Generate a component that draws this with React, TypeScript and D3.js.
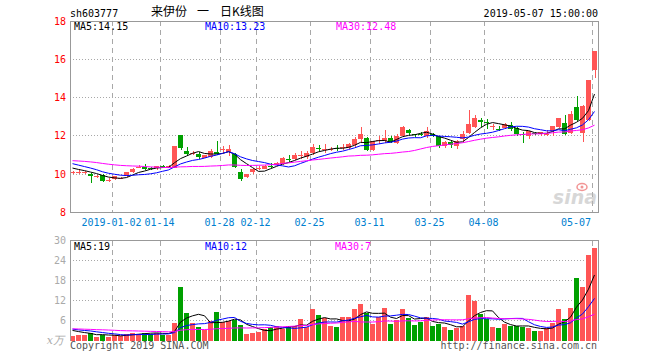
import React from "react";
import * as d3 from "d3";

// trading days shown on the chart
const dates = [
  "2018-12-20","2018-12-21","2018-12-24","2018-12-25","2018-12-26","2018-12-27","2018-12-28",
  "2019-01-02","2019-01-03","2019-01-04","2019-01-07","2019-01-08","2019-01-09","2019-01-10","2019-01-11",
  "2019-01-14","2019-01-15","2019-01-16","2019-01-17","2019-01-18","2019-01-21","2019-01-22","2019-01-23",
  "2019-01-24","2019-01-25","2019-01-28","2019-01-29","2019-01-30","2019-01-31","2019-02-01","2019-02-11",
  "2019-02-12","2019-02-13","2019-02-14","2019-02-15","2019-02-18","2019-02-19","2019-02-20","2019-02-21",
  "2019-02-22","2019-02-25","2019-02-26","2019-02-27","2019-02-28","2019-03-01","2019-03-04","2019-03-05",
  "2019-03-06","2019-03-07","2019-03-08","2019-03-11","2019-03-12","2019-03-13","2019-03-14","2019-03-15",
  "2019-03-18","2019-03-19","2019-03-20","2019-03-21","2019-03-22","2019-03-25","2019-03-26","2019-03-27",
  "2019-03-28","2019-03-29","2019-04-01","2019-04-02","2019-04-03","2019-04-04","2019-04-08","2019-04-09",
  "2019-04-10","2019-04-11","2019-04-12","2019-04-15","2019-04-16","2019-04-17","2019-04-18","2019-04-19",
  "2019-04-22","2019-04-23","2019-04-24","2019-04-25","2019-04-26","2019-04-29","2019-04-30","2019-05-06",
  "2019-05-07",
];

const open = [
  10.08,10.10,10.06,10.02,9.86,9.97,9.69,9.76,9.78,9.88,
  10.11,10.37,10.37,10.32,10.30,10.44,10.38,10.34,12.06,11.22,
  11.08,11.07,10.86,10.91,11.16,11.26,11.16,11.05,10.11,9.83,
  10.09,10.30,10.28,10.42,10.48,10.54,10.78,10.80,10.98,10.90,
  11.11,11.38,11.30,11.31,11.38,11.38,11.36,11.50,11.85,11.89,
  11.28,11.78,11.71,11.89,11.62,12.00,12.32,12.08,12.08,12.02,
  12.10,11.97,11.48,11.66,11.48,11.83,12.15,12.49,12.84,12.70,
  12.51,12.38,12.41,12.58,12.41,12.09,11.97,12.14,12.08,12.06,
  12.23,12.46,12.67,12.15,13.50,12.15,12.84,15.46,
];
const high = [
  10.19,10.25,10.15,10.05,9.95,10.02,9.80,9.90,9.86,10.12,
  10.30,10.48,10.55,10.35,10.45,10.48,10.48,11.47,12.06,11.40,
  11.22,11.15,11.00,11.32,11.75,11.45,11.50,11.10,10.28,10.03,
  10.30,10.45,10.46,10.58,10.66,10.90,10.98,11.10,11.20,11.20,
  11.56,11.52,11.60,11.42,11.52,11.56,11.62,11.96,12.49,11.96,
  11.75,12.02,12.30,11.98,12.08,12.50,12.34,12.12,12.20,12.44,
  12.15,12.00,11.73,11.73,11.76,12.24,13.33,13.09,12.93,12.90,
  12.62,12.54,12.66,12.70,12.45,12.20,12.23,12.20,12.20,12.32,
  12.53,12.95,13.10,13.30,14.06,13.60,14.93,16.42,
];
const low = [
  10.00,10.00,10.00,9.54,9.80,9.60,9.58,9.72,9.74,9.85,
  10.05,10.30,10.22,10.20,10.20,10.36,10.34,10.32,11.24,10.93,
  10.98,10.80,10.82,10.84,10.98,11.12,10.95,10.30,9.62,9.80,
  10.02,10.20,10.26,10.30,10.42,10.50,10.62,10.76,10.80,10.80,
  11.00,11.20,11.10,11.20,11.20,11.24,11.34,11.40,11.62,11.20,
  11.20,11.60,11.65,11.62,11.60,11.94,12.05,11.96,11.98,11.90,
  11.92,11.36,11.36,11.36,11.30,11.70,12.10,12.40,12.49,12.36,
  12.30,12.28,12.38,12.28,12.00,11.62,11.85,12.05,12.00,12.02,
  12.00,12.40,12.05,12.10,12.80,11.66,12.76,15.02,
];
const close = [
  10.12,10.14,10.09,9.93,9.89,9.62,9.72,9.88,9.81,10.09,
  10.27,10.40,10.25,10.28,10.41,10.40,10.43,11.47,11.36,11.08,
  11.12,10.88,10.98,11.22,11.05,11.29,11.33,10.37,9.76,10.00,
  10.27,10.33,10.44,10.39,10.61,10.86,10.74,10.98,11.00,11.11,
  11.42,11.34,11.33,11.34,11.35,11.41,11.59,11.85,12.11,11.28,
  11.71,11.81,11.89,11.68,11.97,12.44,12.15,12.05,12.05,12.27,
  11.97,11.48,11.66,11.50,11.71,12.10,12.62,12.96,12.70,12.66,
  12.54,12.35,12.64,12.38,12.08,12.06,12.23,12.11,12.18,12.09,
  12.53,12.93,12.10,13.15,12.85,13.57,14.93,16.42,
];
// volume, 万手
const volume = [
  1.5,1.8,1.8,2.4,1.2,1.6,1.2,1.6,1.4,2.0,
  2.4,2.0,2.4,2.1,2.4,1.8,1.8,5.4,16.2,8.4,
  5.2,4.1,3.2,5.8,8.6,5.6,5.8,6.2,4.7,2.0,
  2.3,2.6,3.6,4.2,4.4,3.6,4.4,4.4,6.5,4.0,
  9.5,7.7,6.7,4.4,4.1,7.1,7.1,9.5,11.0,8.2,
  5.0,7.0,9.8,5.0,6.2,9.5,6.8,4.7,5.7,7.0,
  4.4,5.0,4.1,3.2,3.9,4.4,13.7,12.0,8.0,6.6,
  4.1,3.8,5.0,4.4,4.4,4.2,3.8,2.9,2.9,3.7,
  5.4,9.5,6.5,9.9,18.8,16.1,25.7,27.8,
];

// sessions before the visible window (estimated from where the MA lines start)
const priorClose = [
  10.6,10.7,10.75,10.9,11.0,10.95,10.85,10.7,10.6,10.65,
  10.7,10.8,10.9,10.85,10.75,10.7,10.8,10.85,10.9,10.7,
  10.9,10.85,10.7,10.75,10.7,10.5,10.4,10.3,10.28,
];
const priorVolume = [
  3.2,3.8,4.1,3.5,3.0,3.3,3.9,4.2,3.6,3.1,
  3.4,3.7,3.9,3.5,3.2,3.6,3.4,3.8,3.5,3.3,
  4.0,3.6,3.9,3.7,3.8,3.5,3.3,3.6,3.2,
];

const tickDates = ["2019-01-02","2019-01-14","2019-01-28","2019-02-12","2019-02-25","2019-03-11","2019-03-25","2019-04-08","2019-05-07"];
const tickLabels = ["2019-01-02","01-14","01-28","02-12","02-25","03-11","03-25","04-08","05-07"];
const priceTicks = [18, 16, 14, 12, 10, 8];
const priceGrid = [16, 14, 12, 10];
const volTicks = [30, 24, 18, 12, 6];
const volGrid = [24, 18, 12, 6];

const maPeriods = [5, 10, 30];
const maColors = ["#000000", "#0000ff", "#ff00ff"];
const priceLegend = ["MA5:14.15", "MA10:13.23", "MA30:12.48"];
const volLegend = ["MA5:19", "MA10:12", "MA30:7"];

const W = 660;
const H = 360;
const left = 70;
const right = 598;
const pTop = 21;
const pBottom = 212.5;
const vTop = 240.5;
const vBottom = 340.5;

const RED = "#ff5555";
const GREEN = "#00a000";
const GRID = "#a8a8a8";
const MONO = "'DejaVu Sans Mono', 'Liberation Mono', monospace";

const movingAvg = (series, prior, n) => {
  const all = prior.concat(series);
  return series.map((_, i) => {
    const end = i + prior.length + 1;
    return d3.mean(all.slice(end - n, end));
  });
};

const App = () => {
  const x = d3.scaleBand().domain(dates).range([left, right]).padding(0);
  const bw = x.bandwidth();
  const cx = (d) => x(d) + (bw - 1) / 2;

  const y = d3.scaleLinear().domain([8, 18]).range([pBottom, pTop]);
  const yv = d3.scaleLinear().domain([0, 30]).range([vBottom, vTop]);

  const priceMA = maPeriods.map((n) => movingAvg(close, priorClose, n));
  const volMA = maPeriods.map((n) => movingAvg(volume, priorVolume, n));

  const lineP = d3.line().x((d, i) => cx(dates[i])).y((d) => y(d));
  const lineV = d3.line().x((d, i) => cx(dates[i])).y((d) => yv(d));

  const up = (i) => close[i] >= open[i];

  return (
    <div style={{ position: "absolute", left: 0, top: 0 }}>
      <svg width={W} height={H} style={{ display: "block", background: "#fff" }}>
        {/* header */}
        <text x={left} y={17} fontFamily={MONO} fontSize={10} fill="#000">sh603777</text>
        <text x={151} y={16} fontFamily="'Noto Sans CJK SC', sans-serif" fontSize={12} fill="#000">来伊份</text>
        <text x={197} y={16} fontFamily="'Noto Sans CJK SC', sans-serif" fontSize={12} fill="#000">一</text>
        <text x={220} y={16} fontFamily="'Noto Sans CJK SC', sans-serif" fontSize={12} fill="#000">日K线图</text>
        <text x={right} y={17} textAnchor="end" fontFamily={MONO} fontSize={10} fill="#000">2019-05-07 15:00:00</text>

        {/* grid */}
        <g shapeRendering="crispEdges">
          {priceGrid.map((v) => (
            <line key={"pg" + v} x1={left} x2={right} y1={y(v)} y2={y(v)} stroke={GRID} strokeDasharray="1,2" />
          ))}
          {volGrid.map((v) => (
            <line key={"vg" + v} x1={left} x2={right} y1={yv(v)} y2={yv(v)} stroke={GRID} strokeDasharray="1,2" />
          ))}
          {tickDates.map((d) => (
            <g key={"vx" + d}>
              <line x1={x(d) + 0.5} x2={x(d) + 0.5} y1={pTop} y2={pBottom} stroke={GRID} strokeDasharray="5,4" />
              <line x1={x(d) + 0.5} x2={x(d) + 0.5} y1={vTop} y2={vBottom} stroke={GRID} strokeDasharray="5,4" />
            </g>
          ))}
        </g>

        {/* sina watermark */}
        <g opacity={0.55}>
          <ellipse cx={582} cy={187} rx={5} ry={3.5} fill="none" stroke="#e84040" strokeWidth={1.5} />
          <circle cx={582} cy={187} r={1.5} fill="#e84040" />
          <text x={597} y={204} textAnchor="end" fontFamily="'DejaVu Sans', sans-serif" fontSize={19} fontStyle="italic" fontWeight="bold" fill="#b8b8b8">sina</text>
        </g>

        {/* candles */}
        <g shapeRendering="crispEdges">
          {dates.map((d, i) => {
            const c = up(i) ? RED : GREEN;
            const top = y(Math.max(open[i], close[i]));
            const bot = y(Math.min(open[i], close[i]));
            return (
              <g key={"k" + d}>
                <line x1={cx(d) + 0.5} x2={cx(d) + 0.5} y1={y(high[i])} y2={y(low[i])} stroke={c} />
                <rect x={x(d)} y={top} width={bw - 1} height={Math.max(1, bot - top)} fill={c} />
              </g>
            );
          })}
        </g>

        {/* price moving averages */}
        {priceMA.map((s, k) => (
          <path key={"pma" + k} d={lineP(s)} fill="none" stroke={maColors[k]} strokeWidth={1} />
        ))}

        {/* volume bars */}
        <g shapeRendering="crispEdges">
          {dates.map((d, i) => (
            <rect key={"v" + d} x={x(d)} y={yv(volume[i])} width={bw - 1} height={vBottom - yv(volume[i])} fill={up(i) ? RED : GREEN} />
          ))}
        </g>
        {volMA.map((s, k) => (
          <path key={"vma" + k} d={lineV(s)} fill="none" stroke={maColors[k]} strokeWidth={1} />
        ))}

        {/* frames */}
        <g shapeRendering="crispEdges" fill="none" stroke="#999">
          <rect x={left} y={pTop} width={right - left} height={pBottom - pTop} />
          <path d={`M${left},${vBottom}V${vTop}H${right}V${vBottom}`} />
        </g>

        {/* legends */}
        {priceLegend.map((t, k) => (
          <text key={"pl" + k} x={[74, 205, 336][k]} y={30} fontFamily={MONO} fontSize={10} fill={maColors[k]}>{t}</text>
        ))}
        {volLegend.map((t, k) => (
          <text key={"vl" + k} x={[74, 205, 335][k]} y={249.5} fontFamily={MONO} fontSize={10} fill={maColors[k]}>{t}</text>
        ))}

        {/* y labels */}
        {priceTicks.map((v) => (
          <text key={"py" + v} x={66} y={y(v) + 3.5} textAnchor="end" fontFamily={MONO} fontSize={10} fill="#ff0000">{v}</text>
        ))}
        {volTicks.map((v) => (
          <text key={"vy" + v} x={66} y={yv(v) + 3.5} textAnchor="end" fontFamily={MONO} fontSize={10} fill="#aaaaaa">{v}</text>
        ))}
        <text x={64} y={344} textAnchor="end" fontFamily="'DejaVu Serif', serif" fontSize={11} fontStyle="italic" fill="#aaaaaa">x万</text>

        {/* date labels */}
        {tickDates.map((d, k) => {
          const w = tickLabels[k].length * 6;
          const atEnd = x(d) + w / 2 > right - 4;
          return (
            <text key={"dx" + d} x={atEnd ? x(d) - 1 : x(d) - 0.5} y={225.5} textAnchor={atEnd ? "end" : "middle"} fontFamily={MONO} fontSize={10} fill="#0080d0">
              {tickLabels[k]}
            </text>
          );
        })}

        {/* footer */}
        <text x={left} y={349} fontFamily={MONO} fontSize={10} fill="#555">Copyright 2019 SINA.COM</text>
        <text x={right - 1} y={349} textAnchor="end" fontFamily={MONO} fontSize={10} fill="#555">http://finance.sina.com.cn</text>
      </svg>
    </div>
  );
};

export default App;
